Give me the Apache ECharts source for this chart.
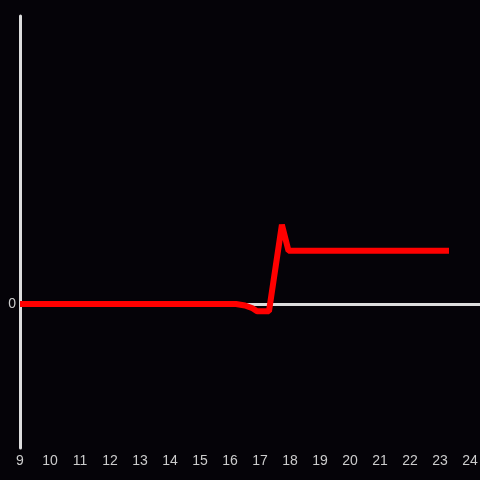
<!DOCTYPE html>
<html>
<head>
<meta charset="utf-8">
<style>
  html, body { margin: 0; padding: 0; background: #050308; }
  #chart { width: 480px; height: 480px; }
</style>
<script src="https://cdn.jsdelivr.net/npm/echarts@6/dist/echarts.min.js"></script>
</head>
<body>
<div id="chart"></div>
<script>
  // x positions (hours) and values
  const hours = [9, 16.2, 16.5, 16.75, 16.9, 17.3, 17.73, 17.95, 23.3];
  const values = [0, 0, -0.01, -0.03, -0.05, -0.05, 0.55, 0.37, 0.37];
  const tickColor = '#dddddd';

  const chart = echarts.init(document.getElementById('chart'), null, { renderer: 'canvas' });

  chart.setOption({
    backgroundColor: '#050308',
    animation: false,
    grid: { left: 20, right: 0, top: 16, bottom: 32, outerBoundsMode: 'none', containLabel: false },
    xAxis: {
      type: 'value',
      min: 9,
      max: 24 + 1 / 3,
      interval: 1,
      axisLine: { show: false, onZero: false },
      axisTick: { show: false },
      splitLine: { show: false },
      axisLabel: {
        color: '#cccccc',
        fontSize: 14,
        margin: 6,
        fontFamily: 'Liberation Sans, sans-serif',
        formatter: v => (Number.isInteger(v) ? String(v) : '')
      }
    },
    yAxis: {
      type: 'value',
      min: -1,
      max: 2,
      interval: 1,
      axisLine: { show: true, lineStyle: { color: tickColor, width: 3 } },
      axisTick: { show: false },
      splitLine: { show: false },
      axisLabel: {
        color: '#cccccc',
        fontSize: 14,
        margin: 4,
        fontFamily: 'Liberation Sans, sans-serif',
        formatter: v => (v === 0 ? '0' : '')
      }
    },
    series: [{
      type: 'line',
      data: hours.map((h, i) => [h, values[i]]),
      symbol: 'none',
      smooth: false,
      lineStyle: { color: '#ff0000', width: 6 },
      z: 3,
      markLine: {
        silent: true,
        symbol: 'none',
        label: { show: false },
        lineStyle: { color: tickColor, width: 3, type: 'solid' },
        data: [{ yAxis: 0 }],
        z: 2
      }
    }]
  });
</script>
</body>
</html>
